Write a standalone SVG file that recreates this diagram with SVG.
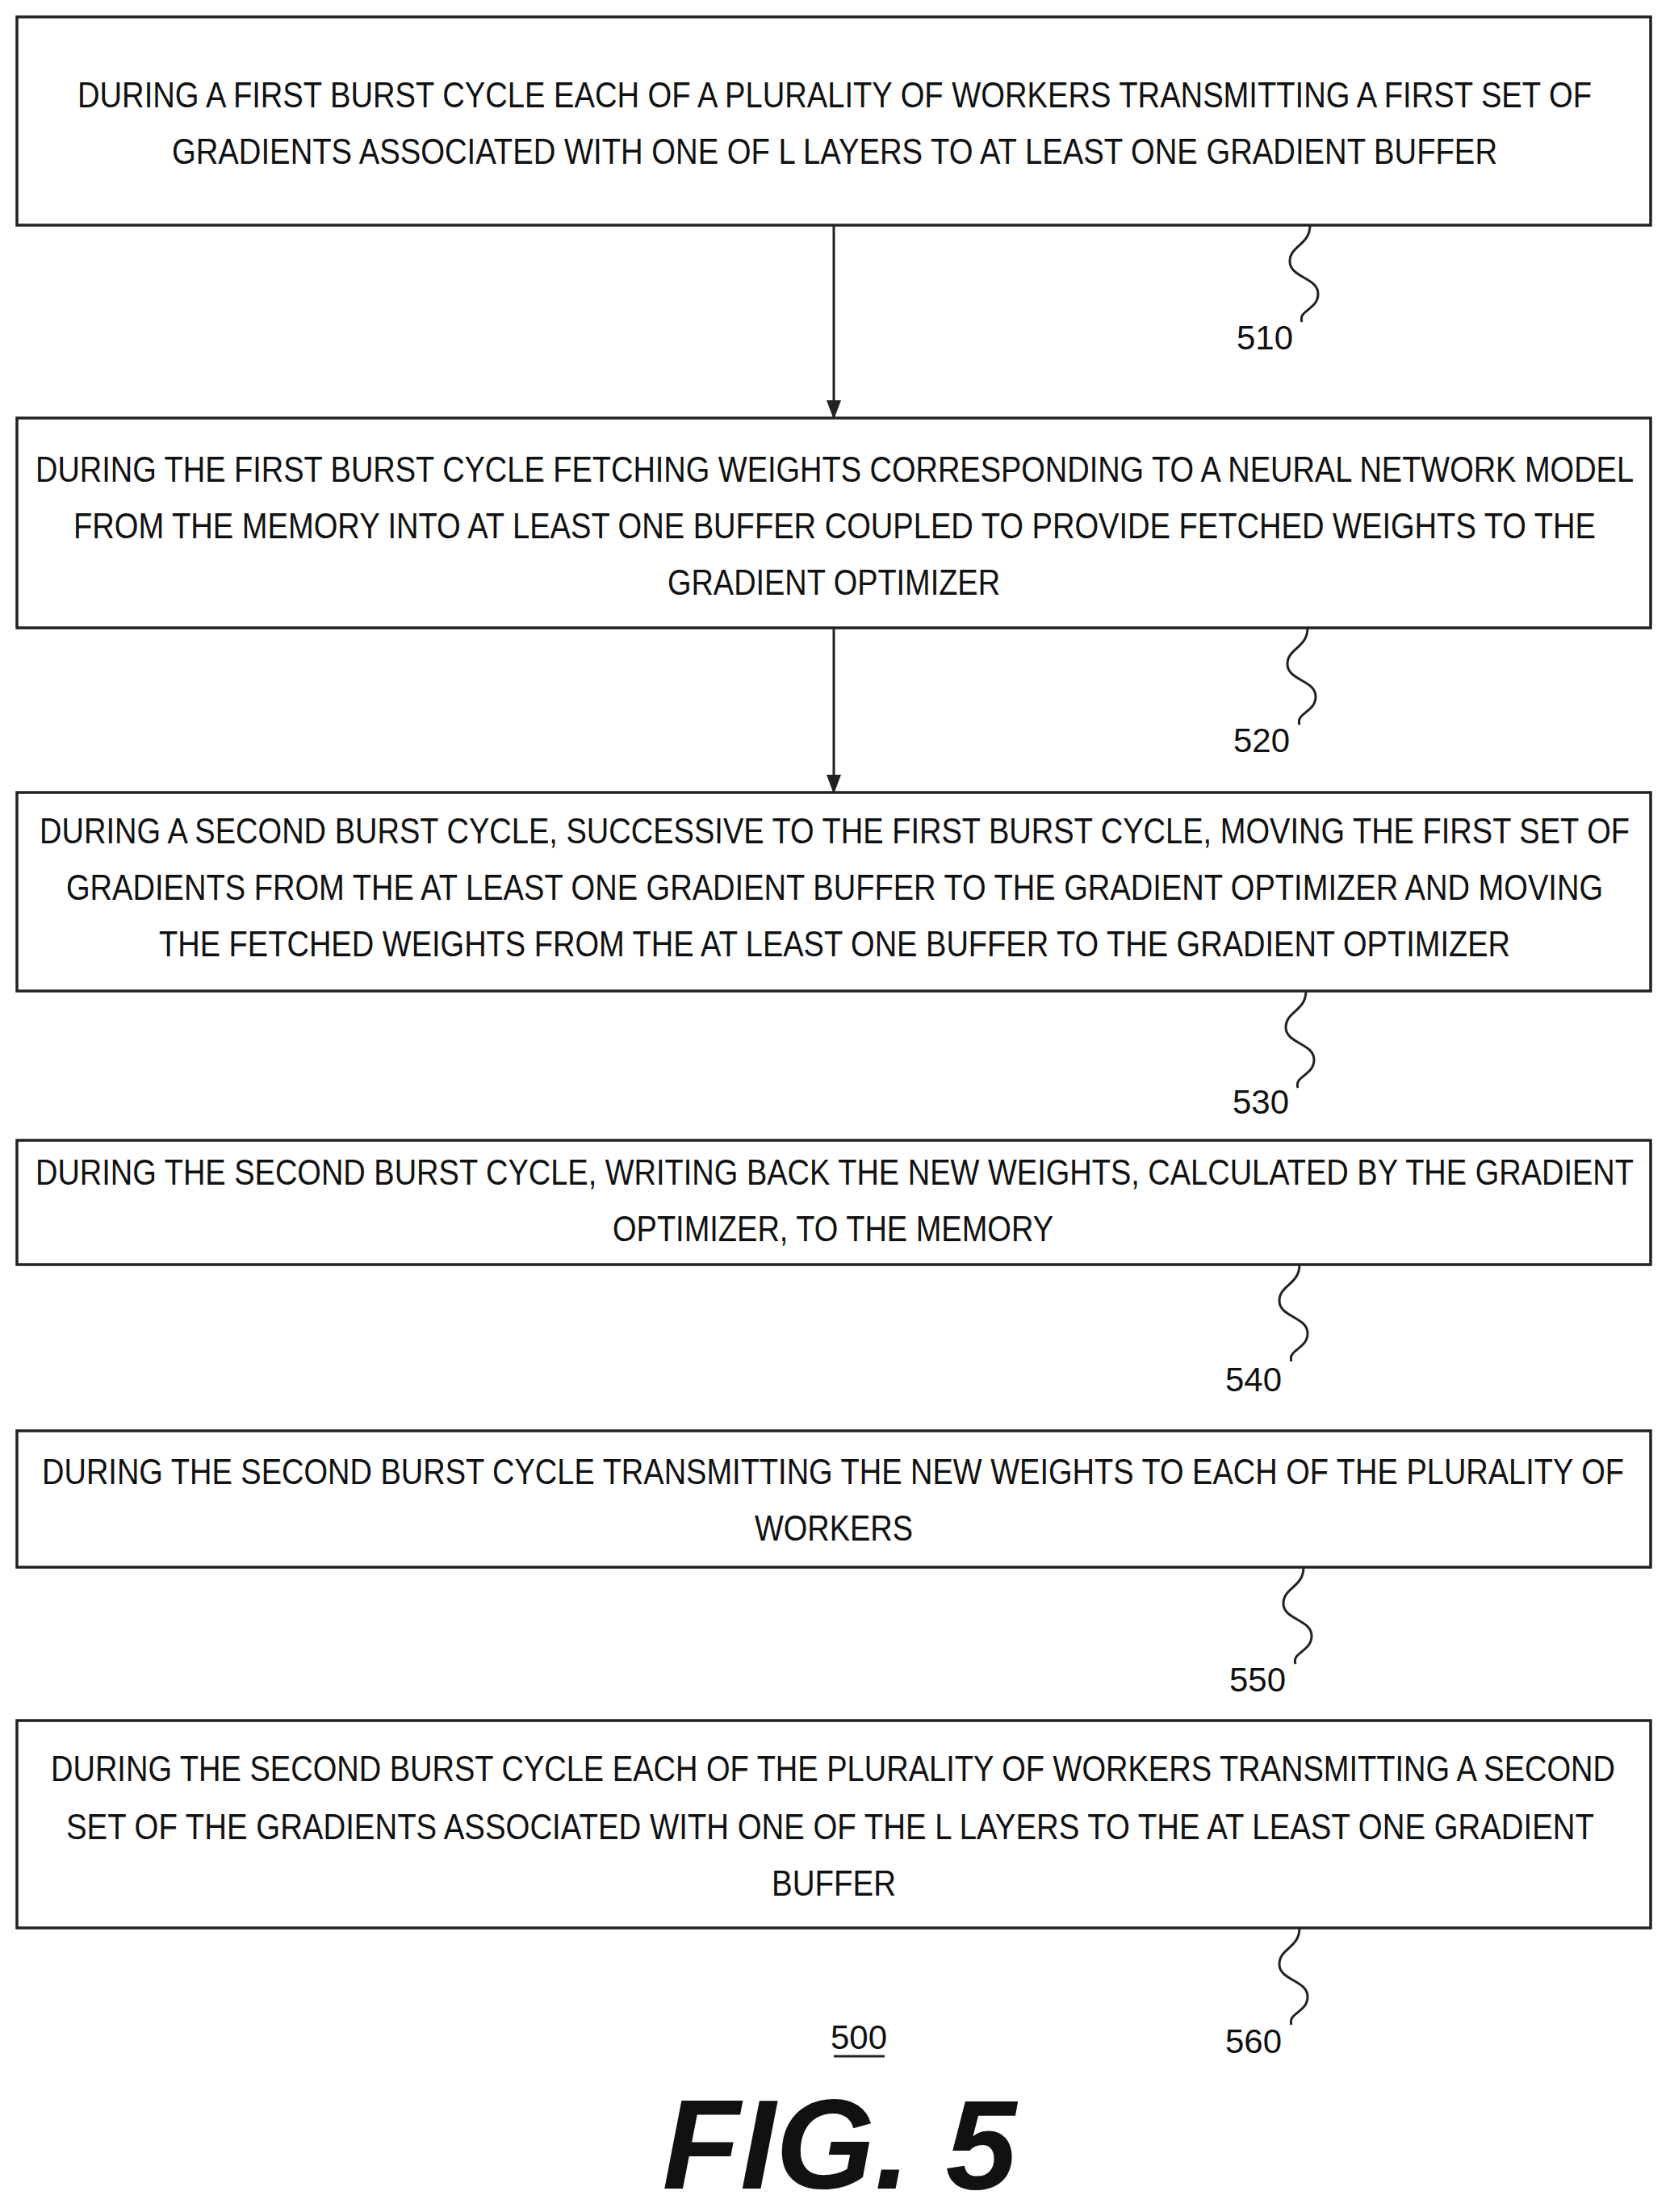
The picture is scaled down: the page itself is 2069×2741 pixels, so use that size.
<svg xmlns="http://www.w3.org/2000/svg" width="2069" height="2741" viewBox="0 0 2069 2741">
<style>
.box{fill:#fff;stroke:#222;stroke-width:3.5}
.t{font-family:"Liberation Sans",Arial,sans-serif;font-size:44px;fill:#111}
.lbl{font-family:"Liberation Sans",Arial,sans-serif;font-size:42px;fill:#111}
.sq{fill:none;stroke:#222;stroke-width:3}
.ar{stroke:#222;stroke-width:3}
</style>
<defs>
<marker id="a2" markerWidth="24" markerHeight="24" refX="22" refY="12" orient="auto" markerUnits="userSpaceOnUse"><path d="M0,3 L24,12 L0,21 Z" fill="#222"/></marker></defs>
<rect width="2069" height="2741" fill="#fff"/>
<g id="connectors">
<line class="ar" x1="1033" y1="279" x2="1033" y2="518" marker-end="url(#a2)"/>
<line class="ar" x1="1033" y1="778" x2="1033" y2="982" marker-end="url(#a2)"/>
</g>
<g id="n510"><rect class="box" x="21" y="21" width="2024" height="258"/>
<text class="t" x="96" y="133" textLength="1876" lengthAdjust="spacingAndGlyphs">DURING A FIRST BURST CYCLE EACH OF A PLURALITY OF WORKERS TRANSMITTING A FIRST SET OF</text>
<text class="t" x="213" y="203" textLength="1642" lengthAdjust="spacingAndGlyphs">GRADIENTS ASSOCIATED WITH ONE OF L LAYERS TO AT LEAST ONE GRADIENT BUFFER</text>
<path class="sq" d="M1623,279 c0,25 -25,25 -25,45 s35,20 35,40 s-25,20 -20,35"/>
<text class="lbl" x="1567" y="433" text-anchor="middle">510</text></g>
<g id="n520"><rect class="box" x="21" y="518" width="2024" height="260"/>
<text class="t" x="44" y="597" textLength="1980" lengthAdjust="spacingAndGlyphs">DURING THE FIRST BURST CYCLE FETCHING WEIGHTS CORRESPONDING TO A NEURAL NETWORK MODEL</text>
<text class="t" x="91" y="667" textLength="1886" lengthAdjust="spacingAndGlyphs">FROM THE MEMORY INTO AT LEAST ONE BUFFER COUPLED TO PROVIDE FETCHED WEIGHTS TO THE</text>
<text class="t" x="827" y="737" textLength="412" lengthAdjust="spacingAndGlyphs">GRADIENT OPTIMIZER</text>
<path class="sq" d="M1620,778 c0,25 -25,25 -25,45 s35,20 35,40 s-25,20 -20,35"/>
<text class="lbl" x="1563" y="932" text-anchor="middle">520</text></g>
<g id="n530"><rect class="box" x="21" y="982" width="2024" height="246"/>
<text class="t" x="49" y="1045" textLength="1970" lengthAdjust="spacingAndGlyphs">DURING A SECOND BURST CYCLE, SUCCESSIVE TO THE FIRST BURST CYCLE, MOVING THE FIRST SET OF</text>
<text class="t" x="82" y="1115" textLength="1904" lengthAdjust="spacingAndGlyphs">GRADIENTS FROM THE AT LEAST ONE GRADIENT BUFFER TO THE GRADIENT OPTIMIZER AND MOVING</text>
<text class="t" x="197" y="1185" textLength="1674" lengthAdjust="spacingAndGlyphs">THE FETCHED WEIGHTS FROM THE AT LEAST ONE BUFFER TO THE GRADIENT OPTIMIZER</text>
<path class="sq" d="M1618,1228 c0,25 -25,25 -25,45 s35,20 35,40 s-25,20 -20,35"/>
<text class="lbl" x="1562" y="1380" text-anchor="middle">530</text></g>
<g id="n540"><rect class="box" x="21" y="1413" width="2024" height="154"/>
<text class="t" x="44" y="1468" textLength="1980" lengthAdjust="spacingAndGlyphs">DURING THE SECOND BURST CYCLE, WRITING BACK THE NEW WEIGHTS, CALCULATED BY THE GRADIENT</text>
<text class="t" x="759" y="1538" textLength="546" lengthAdjust="spacingAndGlyphs">OPTIMIZER, TO THE MEMORY</text>
<path class="sq" d="M1610,1567 c0,25 -25,25 -25,45 s35,20 35,40 s-25,20 -20,35"/>
<text class="lbl" x="1553" y="1724" text-anchor="middle">540</text></g>
<g id="n550"><rect class="box" x="21" y="1773" width="2024" height="169"/>
<text class="t" x="52" y="1839" textLength="1960" lengthAdjust="spacingAndGlyphs">DURING THE SECOND BURST CYCLE TRANSMITTING THE NEW WEIGHTS TO EACH OF THE PLURALITY OF</text>
<text class="t" x="935" y="1909" textLength="196" lengthAdjust="spacingAndGlyphs">WORKERS</text>
<path class="sq" d="M1615,1942 c0,25 -25,25 -25,45 s35,20 35,40 s-25,20 -20,35"/>
<text class="lbl" x="1558" y="2096" text-anchor="middle">550</text></g>
<g id="n560"><rect class="box" x="21" y="2132" width="2024" height="257"/>
<text class="t" x="63" y="2207" textLength="1938" lengthAdjust="spacingAndGlyphs">DURING THE SECOND BURST CYCLE EACH OF THE PLURALITY OF WORKERS TRANSMITTING A SECOND</text>
<text class="t" x="82" y="2279" textLength="1893" lengthAdjust="spacingAndGlyphs">SET OF THE GRADIENTS ASSOCIATED WITH ONE OF THE L LAYERS TO THE AT LEAST ONE GRADIENT</text>
<text class="t" x="956" y="2349" textLength="154" lengthAdjust="spacingAndGlyphs">BUFFER</text>
<path class="sq" d="M1610,2389 c0,25 -25,25 -25,45 s35,20 35,40 s-25,20 -20,35"/>
<text class="lbl" x="1553" y="2544" text-anchor="middle">560</text></g>
<g id="fig">
<text class="lbl" x="1064" y="2539" text-anchor="middle">500</text>
<line x1="1033" y1="2548" x2="1096" y2="2548" stroke="#222" stroke-width="3"/>
<text x="1040" y="2712" text-anchor="middle" font-family="Liberation Sans,Arial,sans-serif" font-size="158" font-weight="bold" font-style="italic" fill="#111">FIG. 5</text>
</g>
</svg>
